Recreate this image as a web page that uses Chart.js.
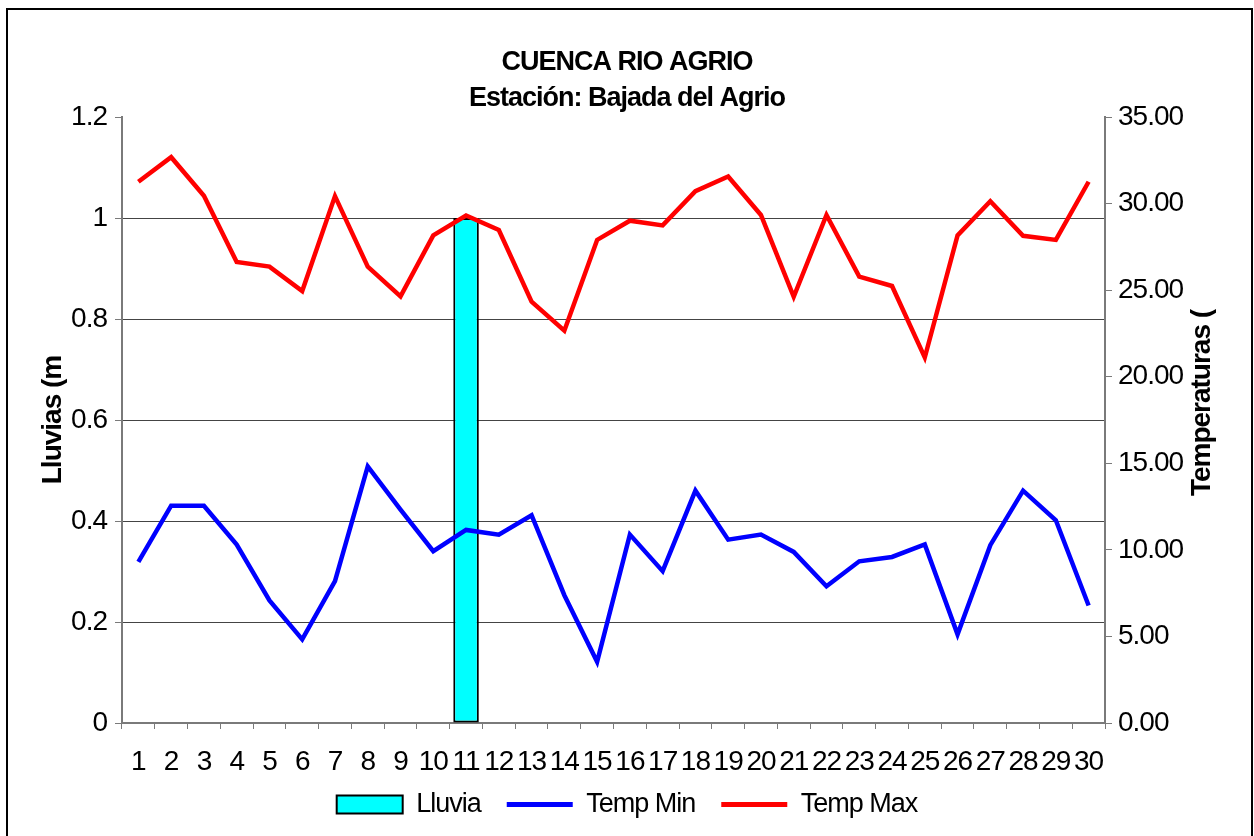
<!DOCTYPE html>
<html lang="es">
  <head>
    <meta charset="UTF-8" />
    <title>Cuenca Rio Agrio</title>
    <script src="https://cdn.jsdelivr.net/npm/chart.js"></script>
    <style>
      body {
        margin: 0;
        background: #fff;
      }
      #chart {
        display: block;
      }
    </style>
  </head>
  <body>
    <canvas id="chart" width="1254" height="836"></canvas>

    <script>
      // day of month
      const days = ["1", "2", "3", "4", "5", "6", "7", "8", "9", "10",
        "11", "12", "13", "14", "15", "16", "17", "18", "19", "20",
        "21", "22", "23", "24", "25", "26", "27", "28", "29", "30"];

      // rain (mm) - left axis
      const lluvia = [0, 0, 0, 0, 0, 0, 0, 0, 0, 0,
        1, 0, 0, 0, 0, 0, 0, 0, 0, 0,
        0, 0, 0, 0, 0, 0, 0, 0, 0, 0];

      // temperatures - right axis
      const tempMin = [9.3, 12.55, 12.55, 10.3, 7.08, 4.83, 8.19, 14.82, 12.32, 9.92,
        11.15, 10.88, 12.0, 7.38, 3.54, 10.88, 8.77, 13.42, 10.59, 10.88,
        9.88, 7.9, 9.34, 9.59, 10.31, 5.12, 10.27, 13.42, 11.71, 6.79];

      const tempMax = [31.26, 32.68, 30.45, 26.63, 26.36, 24.95, 30.43, 26.36, 24.64, 28.16,
        29.31, 28.47, 24.34, 22.66, 27.9, 29.01, 28.74, 30.72, 31.56, 29.34,
        24.62, 29.34, 25.78, 25.24, 21.11, 28.16, 30.14, 28.14, 27.9, 31.26];

      const leftTitle = "Lluvias (m";
      const rightTitle = "Temperaturas (";

      Chart.defaults.font.family = "'Liberation Sans', Arial, sans-serif";
      Chart.defaults.color = "#000";

      const axisGray = "#7a7a7a";
      const gridGray = "#444";

      // old excel look: squeezed text, frame, right title reading upwards
      const excelLook = {
        id: "excelLook",
        beforeUpdate(chart) {
          chart.ctx.letterSpacing = "-1px";
        },
        beforeDraw(chart) {
          chart.ctx.letterSpacing = "-1px";
        },
        afterLayout(chart) {
          chart.legend.top -= 30;
          chart.legend.bottom -= 30;
        },
        afterDraw(chart) {
          const ctx = chart.ctx;
          ctx.save();
          ctx.font = "bold 28px 'Liberation Sans', Arial, sans-serif";
          ctx.fillStyle = "#000";
          ctx.textAlign = "center";
          ctx.textBaseline = "middle";
          ctx.translate(1202, 403);
          ctx.rotate(-Math.PI / 2);
          ctx.fillText(rightTitle, 0, 0);
          ctx.restore();

          ctx.save();
          ctx.strokeStyle = "#000";
          ctx.lineWidth = 2;
          ctx.strokeRect(7, 9, 1245, 840);
          ctx.restore();
        },
      };

      new Chart(document.getElementById("chart"), {
        type: "bar",
        data: {
          labels: days,
          datasets: [
            {
              label: "Lluvia",
              data: lluvia,
              yAxisID: "y",
              backgroundColor: "#00ffff",
              borderColor: "#000",
              borderWidth: 2,
              borderSkipped: false,
              barPercentage: 0.78,
              categoryPercentage: 1,
              order: 1,
            },
            {
              label: "Temp Min",
              type: "line",
              data: tempMin,
              yAxisID: "y1",
              borderColor: "#0000ff",
              backgroundColor: "#0000ff",
              borderWidth: 4.5,
              pointRadius: 0,
              tension: 0,
              pointStyle: "line",
              order: 0,
            },
            {
              label: "Temp Max",
              type: "line",
              data: tempMax,
              yAxisID: "y1",
              borderColor: "#ff0000",
              backgroundColor: "#ff0000",
              borderWidth: 4.5,
              pointRadius: 0,
              tension: 0,
              pointStyle: "line",
              order: 0,
            },
          ],
        },
        options: {
          responsive: false,
          animation: false,
          devicePixelRatio: 1,
          layout: {
            padding: { left: 8, right: 8, top: 0, bottom: -22 },
          },
          plugins: {
            title: {
              display: true,
              text: ["CUENCA RIO AGRIO", "Estación: Bajada del Agrio"],
              color: "#000",
              font: { size: 27, weight: "bold", lineHeight: "36px" },
              padding: { top: 45, bottom: 0 },
            },
            legend: {
              position: "bottom",
              labels: {
                usePointStyle: true,
                pointStyleWidth: 66,
                boxHeight: 18,
                padding: 26,
                color: "#000",
                font: { size: 27 },
                sort: (a, b) => a.datasetIndex - b.datasetIndex,
                generateLabels(chart) {
                  return chart.data.datasets.map((ds, i) => ({
                    text: ds.label,
                    datasetIndex: i,
                    fillStyle: ds.backgroundColor,
                    strokeStyle: ds.type === "line" ? ds.borderColor : "#000",
                    lineWidth: ds.type === "line" ? 5 : 2,
                    pointStyle: ds.type === "line" ? "line" : "rect",
                    hidden: false,
                  }));
                },
              },
            },
            tooltip: { enabled: false },
          },
          scales: {
            x: {
              grid: {
                offset: true,
                drawOnChartArea: false,
                drawTicks: true,
                tickLength: 6,
                tickColor: axisGray,
              },
              border: { display: true, color: axisGray, width: 2 },
              ticks: {
                maxRotation: 0,
                autoSkip: false,
                padding: 19,
                font: { size: 28, lineHeight: 1 },
              },
            },
            y: {
              position: "left",
              min: 0,
              max: 1.2,
              afterFit: (scale) => {
                scale.width = 114;
              },
              ticks: {
                stepSize: 0.2,
                padding: 8,
                font: { size: 28 },
                callback: (v) => String(+v.toFixed(1)),
              },
              grid: {
                color: (c) => (c.tick && c.tick.value >= 1.19 ? "rgba(0,0,0,0)" : gridGray),
                tickColor: axisGray,
                tickLength: 7,
                lineWidth: 1,
              },
              border: { display: true, color: axisGray, width: 2 },
              title: {
                display: true,
                text: leftTitle,
                color: "#000",
                font: { size: 28, weight: "bold", lineHeight: 1.2 },
                padding: { top: 28, bottom: 0 },
              },
            },
            y1: {
              position: "right",
              min: 0,
              max: 35,
              afterFit: (scale) => {
                scale.width = 141;
              },
              ticks: {
                stepSize: 5,
                padding: 6,
                font: { size: 28 },
                callback: (v) => Number(v).toFixed(2),
              },
              grid: {
                drawOnChartArea: false,
                tickColor: axisGray,
                tickLength: 7,
              },
              border: { display: true, color: axisGray, width: 2 },
            },
          },
        },
        plugins: [excelLook],
      });
    </script>
  </body>
</html>
